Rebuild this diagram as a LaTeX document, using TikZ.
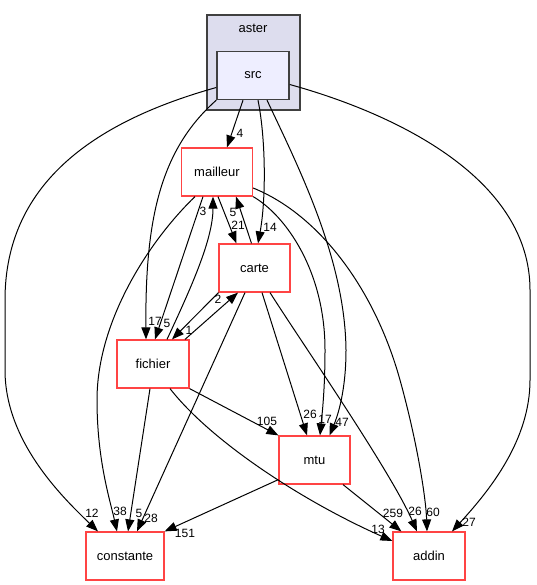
\documentclass[tikz,border=0pt]{standalone}
\usepackage{fontspec}
\setmainfont{Liberation Sans}
\usetikzlibrary{arrows.meta}
\definecolor{nodered}{RGB}{255,68,68}
\definecolor{clusterfill}{RGB}{221,221,238}
\definecolor{srcfill}{RGB}{238,238,255}
\definecolor{darkborder}{RGB}{64,64,64}
\begin{document}
\begin{tikzpicture}[x=1pt,y=-1pt,
  dirnode/.style={draw=nodered, line width=1.2pt, fill=white, minimum width=71pt, minimum height=48pt, inner sep=0pt, font=\fontsize{13}{15}\selectfont},
  clusterbox/.style={draw=darkborder, line width=1.4pt, fill=clusterfill, minimum width=93pt, minimum height=95pt, inner sep=0pt},
  srcbox/.style={draw=darkborder, line width=1.4pt, fill=srcfill, minimum width=72pt, minimum height=48pt, inner sep=0pt, font=\fontsize{13}{15}\selectfont},
  edge/.style={draw=black, line width=1pt, -{Triangle[length=12pt,width=9pt]}},
  lbl/.style={font=\fontsize{12}{14}\selectfont, inner sep=0pt}]
\useasboundingbox[fill=white] (0,0) rectangle (536,585);
% cluster
\node[clusterbox] (asterbox) at (253.5,62.5) {};
\node[font=\fontsize{13}{15}\selectfont, inner sep=0pt] (asterlabel) at (253,28) {aster};
\node[srcbox] (src) at (253,75.5) {src};
% nodes
\node[dirnode] (mailleur) at (217,172) {mailleur};
\node[dirnode] (carte) at (254.5,268) {carte};
\node[dirnode, minimum width=72pt] (fichier) at (153,364) {fichier};
\node[dirnode] (mtu) at (314.5,460) {mtu};
\node[dirnode, minimum width=78pt] (constante) at (125,556) {constante};
\node[dirnode, minimum width=72pt] (addin) at (429,556) {addin};
% src edges
\draw[edge] ([xshift=-10pt]src.south) -- ([xshift=10pt]mailleur.north);
\draw[edge] ([xshift=5pt]src.south) .. controls (266,140) and (266,200) .. ([xshift=3.5pt]carte.north);
\draw[edge] (src.south west) .. controls (160,150) and (145,220) .. ([xshift=-7pt]fichier.north);
\draw[edge] ([xshift=14pt]src.south) .. controls (300,170) and (345,260) .. (346,350) .. controls (346,390) and (338,415) .. ([xshift=15pt]mtu.north);
\draw[edge] ([yshift=-12pt]src.west) .. controls (100,120) and (5,180) .. (5,300) -- (5,370) .. controls (5,440) and (60,495) .. ([xshift=-27pt]constante.north);
\draw[edge] ([yshift=-9pt]src.east) .. controls (400,115) and (530,180) .. (530,290) -- (530,380) .. controls (530,440) and (490,490) .. ([xshift=23pt]addin.north);
% mailleur edges
\draw[edge] ([xshift=1pt]mailleur.south) -- ([xshift=-18pt]carte.north);
\draw[edge] ([xshift=-3pt]carte.north) -- ([xshift=19pt]mailleur.south);
\draw[edge] ([xshift=-22pt]mailleur.south) .. controls (150,240) and (97,320) .. (97,400) .. controls (97,460) and (110,500) .. ([xshift=-8pt]constante.north);
\draw[edge] ([xshift=-14pt]mailleur.south) -- ([xshift=2pt]fichier.north);
\draw[edge] ([xshift=14pt]fichier.north) .. controls (190,290) and (213,240) .. ([xshift=-4pt]mailleur.south);
\draw[edge] (mailleur.south east) .. controls (285,215) and (325,270) .. (325,350) .. controls (325,390) and (322,415) .. ([xshift=5.5pt]mtu.north);
\draw[edge] ([yshift=-16pt]mailleur.east) .. controls (320,215) and (375,290) .. (400,380) .. controls (418,445) and (426,500) .. ([xshift=-2pt]addin.north);
% carte edges
\draw[edge] ([xshift=-36pt]carte.south) -- ([xshift=19pt]fichier.north);
\draw[edge] ([xshift=32pt]fichier.north) -- ([xshift=-16.5pt]carte.south);
\draw[edge] ([xshift=-9.5pt]carte.south) -- ([xshift=12pt]constante.north);
\draw[edge] ([xshift=7.5pt]carte.south) -- ([xshift=-7.5pt]mtu.north);
\draw[edge] ([xshift=15.5pt]carte.south) .. controls (300,340) and (390,470) .. ([xshift=-12pt]addin.north);
% fichier edges
\draw[edge] ([xshift=-3pt]fichier.south) -- ([xshift=3pt]constante.north);
\draw[edge] (fichier.south east) -- (mtu.north west);
\draw[edge] ([xshift=17pt]fichier.south) .. controls (210,440) and (300,500) .. ([yshift=15pt]addin.west);
% mtu edges
\draw[edge] ([yshift=5pt]mtu.south west) -- (constante.north east);
\draw[edge] ([xshift=28.5pt]mtu.south) -- ([xshift=9pt]addin.north west);
% labels
\node[lbl] (l4) at (240,133) {4};
\node[lbl] (l14) at (270,227) {14};
\node[lbl] (l17a) at (155,321) {17};
\node[lbl] (l47) at (342,422) {47};
\node[lbl] (l12) at (92,513) {12};
\node[lbl] (l27) at (469,522) {27};
\node[lbl] (l21) at (238,225) {21};
\node[lbl] (l5a) at (233,212) {5};
\node[lbl] (l38) at (120,511) {38};
\node[lbl] (l5b) at (167,323) {5};
\node[lbl] (l3) at (203,211) {3};
\node[lbl] (l17b) at (325,419) {17};
\node[lbl] (l60) at (433,512) {60};
\node[lbl] (l1) at (189,330) {1};
\node[lbl] (l2) at (218,299) {2};
\node[lbl] (l28) at (151,518) {28};
\node[lbl] (l26a) at (310,414) {26};
\node[lbl] (l26b) at (415,511) {26};
\node[lbl] (l5c) at (139,513) {5};
\node[lbl] (l105) at (267,421) {105};
\node[lbl] (l13) at (378,529) {13};
\node[lbl] (l151) at (185,533) {151};
\node[lbl] (l259) at (393,513) {259};
\end{tikzpicture}
\end{document}
